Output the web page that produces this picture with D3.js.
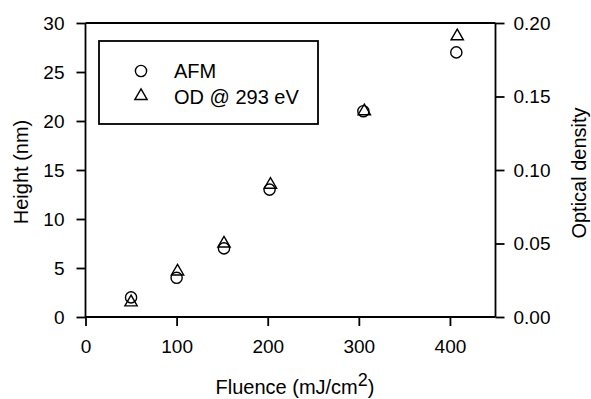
<!DOCTYPE html>
<html><head><meta charset="utf-8">
<script src="https://cdn.jsdelivr.net/npm/d3@7"></script>
<style>body{margin:0;background:#fff}svg{display:block}text{font-family:"Liberation Sans",Arial,sans-serif;fill:#000}</style>
</head><body>
<script>
const fluenceAFM = [50, 100, 152, 202, 305, 407];
const heightAFM = [2.0, 4.0, 7.0, 13.0, 21.0, 27.0];
const fluenceOD = [50, 101, 152, 203, 306, 408];
const opticalDensity = [0.010, 0.031, 0.050, 0.090, 0.140, 0.191];
const xTicks = [0, 100, 200, 300, 400];
const yLeftTicks = [0, 5, 10, 15, 20, 25, 30];
const yRightTicks = [0.00, 0.05, 0.10, 0.15, 0.20];
const legendLabels = ["AFM", "OD @ 293 eV"];

const W = 591, H = 399;
const L = 85.5, R = 495.5, T = 23, B = 317;
const svg = d3.select("body").append("svg").attr("width", W).attr("height", H);
const x = d3.scaleLinear().domain([0, 450]).range([L, R]);
const yL = d3.scaleLinear().domain([0, 30]).range([B, T]);
const yR = d3.scaleLinear().domain([0, 0.2]).range([B, T]);

const tfs = "19px", fs = "20px", sw = 1.8;
const gx = svg.append("g").attr("transform", `translate(0,${B})`)
  .call(d3.axisBottom(x).tickValues(xTicks).tickSize(9).tickPadding(14).tickFormat(d3.format("d")));
const gl = svg.append("g").attr("transform", `translate(${L},0)`)
  .call(d3.axisLeft(yL).tickValues(yLeftTicks).tickSize(9).tickPadding(12).tickFormat(d3.format("d")));
const gr = svg.append("g").attr("transform", `translate(${R},0)`)
  .call(d3.axisRight(yR).tickValues(yRightTicks).tickSize(9).tickPadding(9).tickFormat(d3.format(".2f")));
[gx, gl, gr].forEach(g => {
  g.select(".domain").attr("stroke", "#000").attr("stroke-width", sw);
  g.selectAll(".tick line").attr("stroke", "#000").attr("stroke-width", sw);
  g.selectAll(".tick text").style("font-size", tfs).attr("font-family", "Liberation Sans, Arial, sans-serif");
});
gx.select(".domain").attr("d", `M${L},0H${R}`);
gl.select(".domain").attr("d", `M0,${B}V${T}`);
gr.select(".domain").attr("d", `M0,${B}V${T}`);
// top border
svg.append("line").attr("x1", L).attr("x2", R).attr("y1", T).attr("y2", T)
  .attr("stroke", "#000").attr("stroke-width", sw);

// axis titles
svg.append("text").attr("transform", `translate(28,172) rotate(-90)`)
  .attr("text-anchor", "middle").style("font-size", fs).text("Height (nm)");
svg.append("text").attr("transform", `translate(586,173) rotate(-90)`)
  .attr("text-anchor", "middle").style("font-size", fs).text("Optical density");
const xt = svg.append("text").attr("x", 295).attr("y", 394)
  .attr("text-anchor", "middle").style("font-size", fs);
xt.append("tspan").text("Fluence (mJ/cm");
xt.append("tspan").attr("dy", -8).style("font-size", "18px").text("2");
xt.append("tspan").attr("dy", 8).text(")");

const tri = d3.symbol().type(d3.symbolTriangle).size(66);
// points
svg.append("g").selectAll("circle").data(fluenceAFM).join("circle")
  .attr("cx", d => x(d)).attr("cy", (d, i) => yL(heightAFM[i])).attr("r", 5.6)
  .attr("fill", "none").attr("stroke", "#000").attr("stroke-width", 1.4);
svg.append("g").selectAll("path").data(fluenceOD).join("path")
  .attr("d", tri).attr("transform", (d, i) => `translate(${x(d)},${yR(opticalDensity[i])})`)
  .attr("fill", "none").attr("stroke", "#000").attr("stroke-width", 1.4);

// legend
const lg = svg.append("g");
lg.append("rect").attr("x", 99).attr("y", 41).attr("width", 219).attr("height", 83)
  .attr("fill", "none").attr("stroke", "#000").attr("stroke-width", sw);
lg.append("circle").attr("cx", 141).attr("cy", 71).attr("r", 5.6)
  .attr("fill", "none").attr("stroke", "#000").attr("stroke-width", 1.4);
lg.append("path").attr("d", tri).attr("transform", "translate(141,96)")
  .attr("fill", "none").attr("stroke", "#000").attr("stroke-width", 1.4);
lg.append("text").attr("x", 174).attr("y", 77.5).style("font-size", fs).text(legendLabels[0]);
lg.append("text").attr("x", 174).attr("y", 104).style("font-size", fs).text(legendLabels[1]);
</script>
</body></html>
